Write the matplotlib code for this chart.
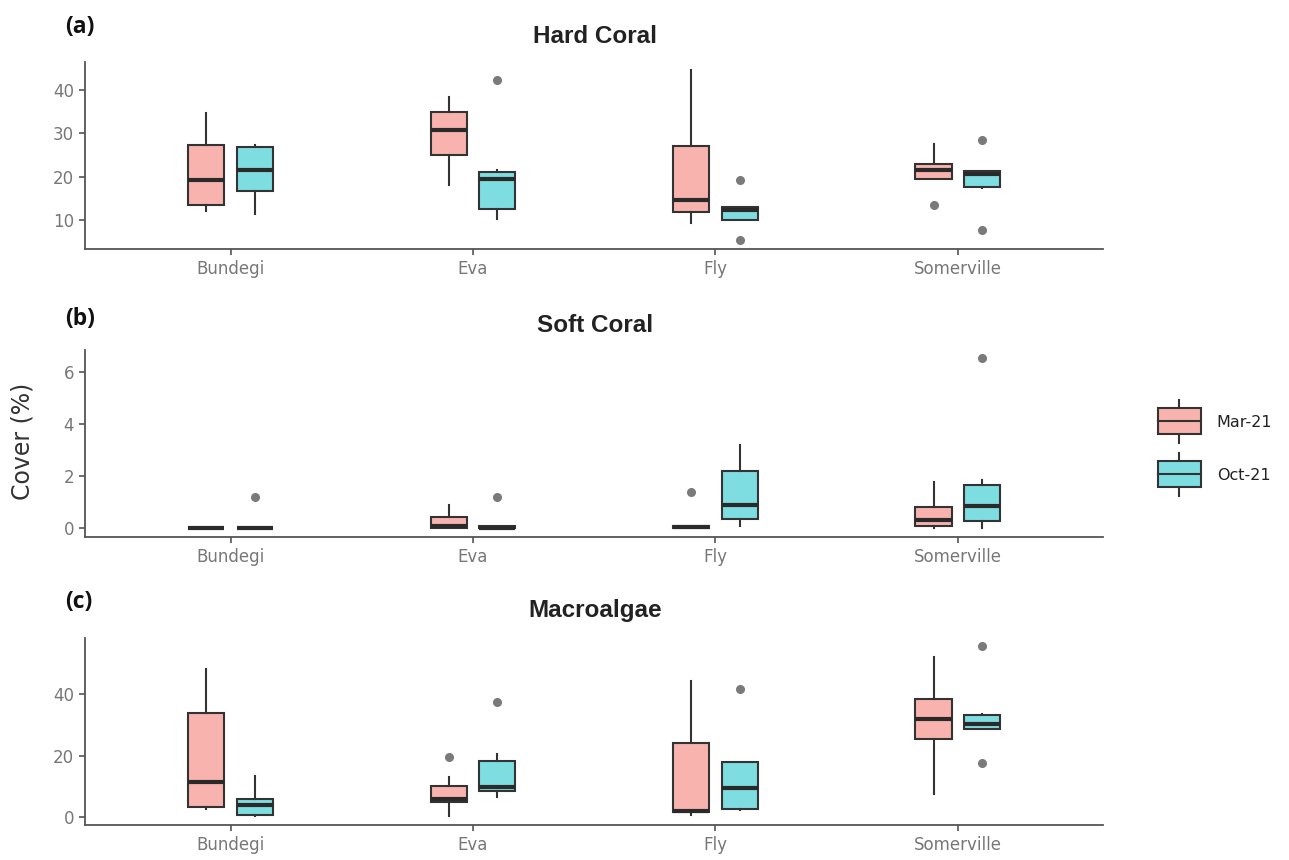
import matplotlib
matplotlib.use('Agg')
import matplotlib.pyplot as plt
from matplotlib.legend_handler import HandlerBase
from matplotlib.patches import Rectangle
from matplotlib.lines import Line2D
import numpy as np

plt.rcParams['font.family'] = ['DejaVu Sans']

# ---------------- data ----------------
sites = ['Bundegi', 'Eva', 'Fly', 'Somerville']
periods = ['Mar-21', 'Oct-21']

# Hard coral
hard_mar_lo = [12.0, 18.0, 9.3, 19.4]
hard_mar_q1 = [13.5, 25.0, 11.8, 19.4]
hard_mar_med = [19.2, 30.6, 14.7, 21.5]
hard_mar_q3 = [27.3, 34.8, 27.0, 22.9]
hard_mar_hi = [34.5, 38.3, 44.4, 27.5]
hard_mar_out = [[], [], [], [13.5]]

hard_oct_lo = [11.4, 10.3, 9.9, 17.3]
hard_oct_q1 = [16.7, 12.5, 9.9, 17.7]
hard_oct_med = [21.6, 19.5, 12.4, 20.5]
hard_oct_q3 = [26.8, 21.1, 12.9, 21.3]
hard_oct_hi = [27.3, 21.5, 12.9, 21.3]
hard_oct_out = [[], [42.3], [19.2, 5.3], [28.4, 7.6]]

# Soft coral
soft_mar_lo = [0.0, 0.0, 0.0, 0.0]
soft_mar_q1 = [0.0, 0.0, 0.0, 0.1]
soft_mar_med = [0.0, 0.1, 0.04, 0.34]
soft_mar_q3 = [0.0, 0.45, 0.08, 0.82]
soft_mar_hi = [0.0, 0.88, 0.08, 1.79]
soft_mar_out = [[], [], [1.39], []]

soft_oct_lo = [0.0, 0.0, 0.09, 0.0]
soft_oct_q1 = [0.0, 0.0, 0.38, 0.27]
soft_oct_med = [0.0, 0.03, 0.91, 0.85]
soft_oct_q3 = [0.0, 0.08, 2.2, 1.65]
soft_oct_hi = [0.0, 0.08, 3.19, 1.87]
soft_oct_out = [[1.19], [1.19], [], [6.5]]

# Macroalgae
macro_mar_lo = [2.6, 0.2, 0.6, 7.4]
macro_mar_q1 = [3.2, 4.8, 1.5, 25.5]
macro_mar_med = [11.5, 5.9, 2.0, 31.8]
macro_mar_q3 = [34.0, 10.1, 24.0, 38.3]
macro_mar_hi = [48.1, 13.1, 44.3, 52.0]
macro_mar_out = [[], [19.6], [], []]

macro_oct_lo = [0.2, 6.7, 2.4, 28.7]
macro_oct_q1 = [0.75, 8.5, 2.6, 28.7]
macro_oct_med = [3.8, 9.9, 9.5, 30.4]
macro_oct_q3 = [6.0, 18.3, 17.8, 33.2]
macro_oct_hi = [13.3, 20.5, 17.8, 33.5]
macro_oct_out = [[], [37.3], [41.5], [55.5, 17.6]]

titles = ['Hard Coral', 'Soft Coral', 'Macroalgae']
panel_tags = ['(a)', '(b)', '(c)']
yticks = [[10, 20, 30, 40], [0, 2, 4, 6], [0, 20, 40]]

# ---------------- style ----------------
fill_cols = ['#F8B3AE', '#7EDDE0']
edge_col = '#333333'
tick_col = '#777777'
out_col = '#7a7a7a'


def make_stats(lo, q1, med, q3, hi, out):
    return [dict(whislo=lo[i], q1=q1[i], med=med[i], q3=q3[i], whishi=hi[i],
                 fliers=np.array(out[i])) for i in range(len(lo))]


panels = [
    (make_stats(hard_mar_lo, hard_mar_q1, hard_mar_med, hard_mar_q3, hard_mar_hi, hard_mar_out),
     make_stats(hard_oct_lo, hard_oct_q1, hard_oct_med, hard_oct_q3, hard_oct_hi, hard_oct_out)),
    (make_stats(soft_mar_lo, soft_mar_q1, soft_mar_med, soft_mar_q3, soft_mar_hi, soft_mar_out),
     make_stats(soft_oct_lo, soft_oct_q1, soft_oct_med, soft_oct_q3, soft_oct_hi, soft_oct_out)),
    (make_stats(macro_mar_lo, macro_mar_q1, macro_mar_med, macro_mar_q3, macro_mar_hi, macro_mar_out),
     make_stats(macro_oct_lo, macro_oct_q1, macro_oct_med, macro_oct_q3, macro_oct_hi, macro_oct_out)),
]

fig = plt.figure(figsize=(12.89, 8.6), dpi=100)

ax_left, ax_width, ax_height = 0.066, 0.79, 0.2175
ax_bottoms = [0.7105, 0.3756, 0.0407]
title_y = [0.958, 0.622, 0.290]
tag_y = [0.969, 0.629, 0.300]

x = np.arange(1, len(sites) + 1)
offsets = [-0.1, 0.1]

for k, (stats_pair, ttl) in enumerate(zip(panels, titles)):
    ax = fig.add_axes([ax_left, ax_bottoms[k], ax_width, ax_height])
    allvals = []
    for j, stats in enumerate(stats_pair):
        ax.bxp(stats, positions=x + offsets[j], widths=0.15, patch_artist=True,
               showcaps=False,
               boxprops=dict(facecolor=fill_cols[j], edgecolor=edge_col, linewidth=1.5),
               medianprops=dict(color='#2a2a2a', linewidth=3.0, solid_capstyle='butt'),
               whiskerprops=dict(color=edge_col, linewidth=1.5),
               flierprops=dict(marker='o', markersize=5.5, markerfacecolor=out_col,
                               markeredgecolor=out_col))
        for s in stats:
            allvals += [s['whislo'], s['whishi']] + list(s['fliers'])
    lo, hi = min(allvals), max(allvals)
    pad = 0.05 * (hi - lo)
    ax.set_ylim(lo - pad, hi + pad)
    ax.set_xlim(0.4, 4.6)
    ax.set_xticks(x)
    ax.set_xticklabels(sites)
    ax.set_yticks(yticks[k])
    for side in ['top', 'right']:
        ax.spines[side].set_visible(False)
    for side in ['left', 'bottom']:
        ax.spines[side].set_color('#555555')
        ax.spines[side].set_linewidth(1.3)
    ax.tick_params(colors='#555555', labelcolor=tick_col, labelsize=12, length=4, width=1.2,
                   pad=4)
    fig.text(0.4615, title_y[k], ttl, ha='center', va='center', fontsize=17.5,
             fontweight='bold', color='#222222', family=['Liberation Sans', 'DejaVu Sans'])
    fig.text(0.0505, tag_y[k], panel_tags[k], ha='left', va='center', fontsize=16.5,
             fontweight='bold', color='#111111', family=['Open Sans', 'DejaVu Sans'])

fig.text(0.0175, 0.487, 'Cover (%)', rotation=90, ha='center', va='center',
         fontsize=17, color='#333333')


class BoxKey(HandlerBase):
    # draws a small boxplot glyph (whisker, box, median) as legend key
    def __init__(self, color):
        super().__init__()
        self.color = color

    def create_artists(self, legend, orig_handle, xdescent, ydescent, width, height,
                       fontsize, trans):
        x0 = -xdescent
        H = height + ydescent
        y0 = -ydescent - 0.3 * fontsize
        cx = x0 + width / 2
        wl = Line2D([cx, cx], [y0, y0 + H], color=edge_col, linewidth=1.5,
                    transform=trans)
        box = Rectangle((x0, y0 + 0.2 * H), width, 0.6 * H,
                        facecolor=self.color, edgecolor=edge_col, linewidth=1.5,
                        transform=trans)
        md = Line2D([x0, x0 + width], [y0 + 0.5 * H] * 2,
                    color=edge_col, linewidth=1.5, transform=trans)
        return [wl, box, md]


h_mar = Rectangle((0, 0), 1, 1)
h_oct = Rectangle((0, 0), 1, 1)
fig.legend([h_mar, h_oct], periods, loc='center left',
           bbox_to_anchor=(0.892, 0.4785), frameon=False, fontsize=11.5,
           handler_map={h_mar: BoxKey(fill_cols[0]), h_oct: BoxKey(fill_cols[1])},
           handlelength=2.7, handleheight=2.7, labelspacing=1.31, handletextpad=1.0,
           borderpad=0, labelcolor='#222222')

fig.savefig('out.png', dpi=100)
